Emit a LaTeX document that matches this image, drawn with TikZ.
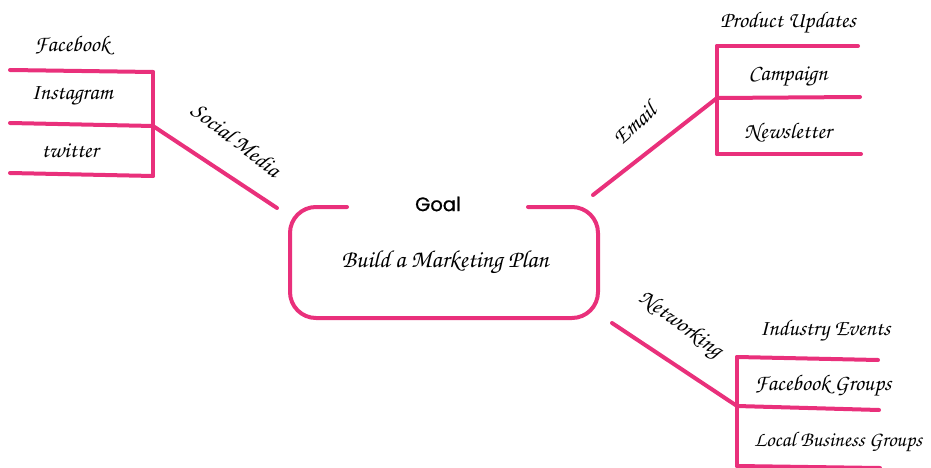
\documentclass[tikz,border=0pt]{standalone}
\usepackage{xcolor}
\usepackage{fontspec}
\usepackage{tikz}
\usetikzlibrary{positioning}
\newfontfamily\hand{texgyrechorus-mediumitalic.otf}
\newfontfamily\goalfont{Poppins}[FakeBold=0.7]
\definecolor{mappink}{RGB}{233,48,123}

\begin{document}
\begin{tikzpicture}[x=1pt,y=-1pt]
\tikzstyle{branch} = [draw=mappink, line width=4pt, line cap=round]
\tikzstyle{leaf} = [font=\hand\fontsize{22.5}{24}\selectfont, inner sep=0pt]
\tikzstyle{topic} = [font=\hand\fontsize{23}{25}\selectfont, inner sep=0pt]

\useasboundingbox (0,0) rectangle (931,468);

% centre goal box
\node (goal) [font=\goalfont\fontsize{19.5}{21}\selectfont] at (438,204) {Goal};
\node (plan) [leaf, font=\hand\fontsize{24.5}{26}\selectfont] at (445,262) {Build a Marketing Plan};
\draw [branch, rounded corners=26pt] (347,207) -- (290,207) -- (290,318) -- (598,318) -- (598,207) -- (528,207);

% social media
\coordinate (sm) at (277,208);
\coordinate (smj) at (153,126);
\coordinate (sm1) at (153,72);
\coordinate (sm3) at (153,176);
\draw [branch] (sm) -- (smj);
\draw [branch] (sm1) -- (sm3);
\draw [branch] (sm1) -- (10,70);
\draw [branch] (smj) -- (10,123);
\draw [branch] (sm3) -- (10,173);
\node (social) [topic, rotate=-38] at (236,140) {Social Media};
\node (facebook) [leaf] at (72,46) {Facebook};
\node (instagram) [leaf] at (72,96) {Instagram};
\node (twitter) [leaf] at (70,151) {twitter};

% email
\coordinate (em) at (593,195);
\coordinate (emj) at (717,98);
\coordinate (em1) at (717,46);
\coordinate (em3) at (717,154);
\draw [branch] (em) -- (emj);
\draw [branch] (em1) -- (em3);
\draw [branch] (em1) -- (858,46);
\draw [branch] (emj) -- (860,97);
\draw [branch] (em3) -- (861,154);
\node (email) [topic, rotate=42] at (634,124) {Email};
\node (updates) [leaf] at (788,23) {Product Updates};
\node (campaign) [leaf] at (788,76) {Campaign};
\node (newsletter) [leaf] at (788,133) {Newsletter};

% networking
\coordinate (nw) at (612,323);
\coordinate (nwj) at (737,406);
\coordinate (nw1) at (737,357);
\coordinate (nw3) at (737,466);
\draw [branch] (nw) -- (nwj);
\draw [branch] (nw1) -- (nw3);
\draw [branch] (nw1) -- (878,360);
\draw [branch] (nwj) -- (879,410);
\draw [branch] (nw3) -- (880,468);
\node (networking) [topic, rotate=-36] at (680,325) {Networking};
\node (events) [leaf] at (825,331) {Industry Events};
\node (fbgroups) [leaf] at (823,386) {Facebook Groups};
\node (local) [leaf, font=\hand\fontsize{21}{23}\selectfont] at (838,442) {Local Business Groups};

\end{tikzpicture}
\end{document}
